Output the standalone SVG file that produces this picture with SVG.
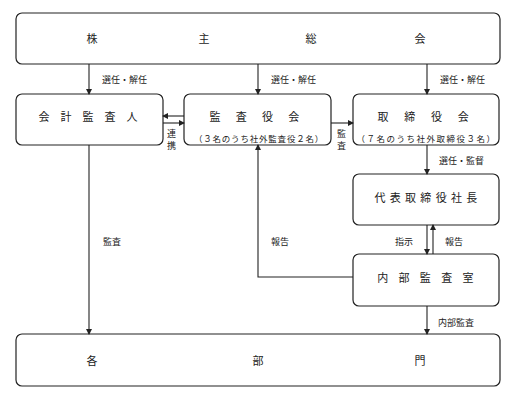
<svg xmlns="http://www.w3.org/2000/svg" width="511" height="401" viewBox="0 0 511 401">
<style>
.box{fill:#fff;stroke:#222;stroke-width:1.2}
.t{font-family:"Noto Sans CJK JP","Noto Sans",sans-serif;font-size:11px;fill:#222;text-anchor:middle;dominant-baseline:central}
.s{font-family:"Noto Sans CJK JP","Noto Sans",sans-serif;font-size:8.5px;fill:#222;text-anchor:middle;dominant-baseline:central}
.l{font-family:"Noto Sans CJK JP","Noto Sans",sans-serif;font-size:9px;fill:#222;dominant-baseline:central}
.c{fill:none;stroke:#222;stroke-width:1.1}
</style>
<defs>
<marker id="ah" markerWidth="6" markerHeight="6" refX="5" refY="3" orient="auto" markerUnits="userSpaceOnUse">
<path d="M0,0 L6,3 L0,6 z" fill="#222"/>
</marker>
</defs>
<g id="shareholders">
<rect class="box" x="16" y="13" width="484" height="51" rx="6"/>
<text class="t" x="92" y="38">株</text>
<text class="t" x="204" y="38">主</text>
<text class="t" x="311" y="38">総</text>
<text class="t" x="420" y="38">会</text>
</g>
<g id="auditor">
<rect class="box" x="16" y="94" width="147" height="51" rx="6"/>
<text class="t" x="93.5" y="116" letter-spacing="11">会計監査人</text>
</g>
<g id="audit-board">
<rect class="box" x="184" y="94" width="147" height="51" rx="6"/>
<text class="t" x="262" y="116" letter-spacing="15.3">監査役会</text>
<text class="s" x="259" y="138" letter-spacing="0.8">（３名のうち社外監査役２名）</text>
</g>
<g id="board">
<rect class="box" x="353" y="94" width="146" height="51" rx="6"/>
<text class="t" x="431" y="116" letter-spacing="15.7">取締役会</text>
<text class="s" x="426.5" y="138" letter-spacing="1.5">（７名のうち社外取締役３名）</text>
</g>
<g id="president">
<rect class="box" x="353" y="174" width="146" height="51" rx="6"/>
<text class="t" x="428" y="197" letter-spacing="4.3">代表取締役社長</text>
</g>
<g id="internal-audit">
<rect class="box" x="353" y="254" width="146" height="52" rx="6"/>
<text class="t" x="430.5" y="277" letter-spacing="10.3">内部監査室</text>
</g>
<g id="departments">
<rect class="box" x="16" y="334" width="484" height="52" rx="6"/>
<text class="t" x="92" y="360">各</text>
<text class="t" x="258" y="360">部</text>
<text class="t" x="420" y="360">門</text>
</g>
<g id="connectors">
<line class="c" x1="89" y1="64" x2="89" y2="94" marker-end="url(#ah)"/>
<line class="c" x1="258" y1="64" x2="258" y2="94" marker-end="url(#ah)"/>
<line class="c" x1="427" y1="64" x2="427" y2="94" marker-end="url(#ah)"/>
<line class="c" x1="184" y1="116" x2="163" y2="116" marker-end="url(#ah)"/>
<line class="c" x1="163" y1="123" x2="184" y2="123" marker-end="url(#ah)"/>
<line class="c" x1="331" y1="123" x2="353" y2="123" marker-end="url(#ah)"/>
<line class="c" x1="427" y1="145" x2="427" y2="174" marker-end="url(#ah)"/>
<line class="c" x1="427" y1="225" x2="427" y2="254" marker-end="url(#ah)"/>
<line class="c" x1="433" y1="254" x2="433" y2="225" marker-end="url(#ah)"/>
<polyline class="c" points="353,277 258,277 258,145" marker-end="url(#ah)"/>
<line class="c" x1="427" y1="306" x2="427" y2="334" marker-end="url(#ah)"/>
<line class="c" x1="89" y1="145" x2="89" y2="334" marker-end="url(#ah)"/>
</g>
<g id="labels">
<text class="l" x="102" y="79">選任・解任</text>
<text class="l" x="271" y="79">選任・解任</text>
<text class="l" x="440" y="79">選任・解任</text>
<text class="l" x="167" y="133">連</text>
<text class="l" x="167" y="145">携</text>
<text class="l" x="337" y="133">監</text>
<text class="l" x="337" y="145">査</text>
<text class="l" x="439" y="160">選任・監督</text>
<text class="l" x="395" y="241">指示</text>
<text class="l" x="445" y="241">報告</text>
<text class="l" x="271" y="241">報告</text>
<text class="l" x="103" y="241">監査</text>
<text class="l" x="438" y="322">内部監査</text>
</g>
</svg>
